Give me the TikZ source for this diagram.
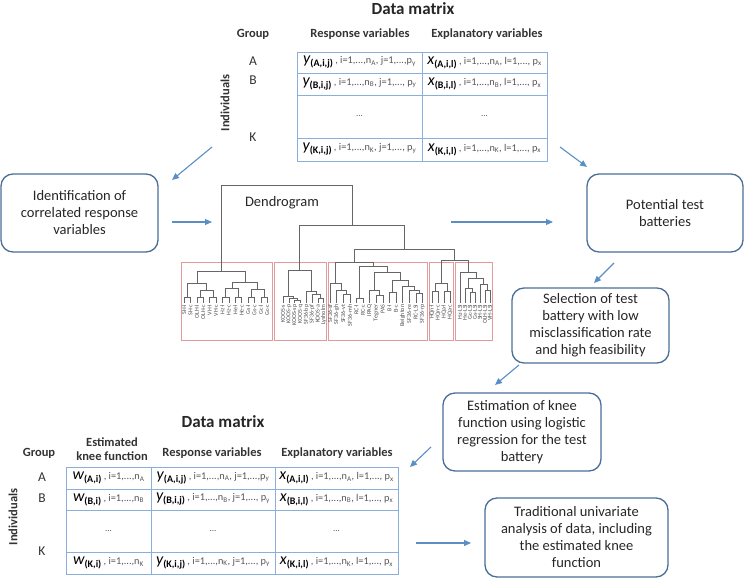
\documentclass[tikz,border=0pt]{standalone}
\usepackage{fontspec}
\setmainfont{Carlito}
\usepackage{tikz}
\usetikzlibrary{arrows.meta}

\definecolor{boxblue}{HTML}{4A6E96}
\definecolor{arrowblue}{HTML}{5B8EC5}
\definecolor{tableblue}{HTML}{8AAFD9}
\definecolor{clusterred}{HTML}{E39A9A}
\definecolor{rngcol}{HTML}{555555}

% matrix entries
\newcommand{\mvar}[2]{{\fontsize{16}{16}\selectfont\itshape #1}\raisebox{-3pt}{\fontsize{10}{10}\selectfont\bfseries (#2)}}
\newcommand{\mrng}[1]{{\fontsize{10.3}{10.3}\selectfont\color{rngcol}\ #1}}
% dendrogram link: (x1,y1) and (x2,y2) joined at height h
\newcommand{\dlink}[5]{\draw[dendro] (#1,#2) |- (#3,#5) -- (#3,#4);}

\tikzset{
  stepbox/.style={draw=boxblue, line width=1.3pt, rounded corners=12pt, align=center,
    font=\fontsize{14.5}{17}\selectfont, text=black!85, inner sep=2pt},
  flow/.style={draw=arrowblue, line width=1.1pt, -{Triangle[length=7pt,width=6pt]}},
  cell/.style={draw=tableblue, line width=0.8pt, inner sep=0pt},
  head/.style={font=\fontsize{12.5}{13.5}\selectfont\bfseries, text=black!80, align=center},
  title/.style={font=\fontsize{17}{17}\selectfont\bfseries, text=black!85},
  grp/.style={font=\fontsize{13.5}{14}\selectfont, text=black!80},
  dots/.style={font=\fontsize{9}{9}\selectfont, text=rngcol},
  dendro/.style={draw=black!60, line width=0.6pt},
  cluster/.style={draw=clusterred, line width=0.6pt},
  leaf/.style={rotate=90, anchor=east, inner sep=0.5pt, text=black!70,
    font=\fontsize{6}{6}\selectfont}
}

\begin{document}
\begin{tikzpicture}[x=1pt,y=-1pt]
\useasboundingbox (0,0) rectangle (745,578);

% upper data matrix
\node[title] (dm1) at (413,9) {Data matrix};
\node[head] (grp1) at (253,34) {Group};
\node[head] (resp1) at (360,34) {Response variables};
\node[head] (expl1) at (487,34) {Explanatory variables};
\node[head, rotate=90] (ind1) at (225,103) {Individuals};
\node[grp] (gA1) at (253,61) {A};
\node[grp] (gB1) at (253,80) {B};
\node[grp] (gK1) at (253,137) {K};

\node[cell, minimum width=125pt, minimum height=21pt] (yA) at (359.5,62.5)
  {\mvar{y}{A,i,j}\mrng{, i=1,...,n\textsubscript{A}, j=1,...,p\textsubscript{y}}};
\node[cell, minimum width=125pt, minimum height=21pt] (xA) at (484.5,62.5)
  {\mvar{x}{A,i,l}\mrng{, i=1,...,n\textsubscript{A}, l=1,..., p\textsubscript{x}}};
\node[cell, minimum width=125pt, minimum height=22pt] (yB) at (359.5,84)
  {\mvar{y}{B,i,j}\mrng{, i=1,...,n\textsubscript{B}, j=1,..., p\textsubscript{y}}};
\node[cell, minimum width=125pt, minimum height=22pt] (xB) at (484.5,84)
  {\mvar{x}{B,i,l}\mrng{, i=1,...,n\textsubscript{B}, l=1,..., p\textsubscript{x}}};
\node[cell, minimum width=125pt, minimum height=43pt, dots] (yD) at (359.5,116.5) {...};
\node[cell, minimum width=125pt, minimum height=43pt, dots] (xD) at (484.5,116.5) {...};
\node[cell, minimum width=125pt, minimum height=23pt] (yK) at (359.5,149.5)
  {\mvar{y}{K,i,j}\mrng{, i=1,...,n\textsubscript{K}, j=1,..., p\textsubscript{y}}};
\node[cell, minimum width=125pt, minimum height=23pt] (xK) at (484.5,149.5)
  {\mvar{x}{K,i,l}\mrng{, i=1,...,n\textsubscript{K}, l=1,..., p\textsubscript{x}}};

% process boxes
\node[stepbox, minimum width=157pt, minimum height=78pt] (ident) at (79.5,213)
  {Identification of\\correlated response\\variables};
\node[stepbox, minimum width=156pt, minimum height=78pt] (potent) at (665,213)
  {Potential test\\batteries};
\node[stepbox, minimum width=157pt, minimum height=75pt] (select) at (590.5,325.5)
  {Selection of test\\battery with low\\misclassification rate\\and high feasibility};
\node[stepbox, minimum width=158pt, minimum height=78pt] (estim) at (522,432)
  {Estimation of knee\\function using logistic\\regression for the test\\battery};
\node[stepbox, minimum width=183pt, minimum height=79pt] (trad) at (576.5,537.5)
  {Traditional univariate\\analysis of data, including\\the estimated knee\\function};

% dendrogram
\node[font=\fontsize{14.5}{14}\selectfont, text=black!85] (dendtitle) at (282,203) {Dendrogram};
\draw[cluster] (181,262) rectangle (272,340);
\draw[cluster] (274,262) rectangle (326,340);
\draw[cluster] (328,262) rectangle (427,340);
\draw[cluster] (429,262) rectangle (453,340);
\draw[cluster] (455,262) rectangle (492,340);

\dlink{184}{303}{190.4}{303}{297}
\dlink{196.8}{303}{203.2}{303}{297}
\dlink{209.6}{303}{216}{303}{297}
\dlink{222.4}{303}{228.8}{303}{297}
\dlink{235.2}{303}{241.6}{303}{297}
\dlink{248}{303}{254.4}{303}{297}
\dlink{260.8}{303}{267.2}{303}{297}
\dlink{200}{297}{212.8}{297}{290}
\dlink{187.2}{297}{206.4}{290}{283}
\dlink{225.6}{297}{238.4}{297}{288}
\dlink{251.2}{297}{264}{297}{289}
\dlink{232}{288}{257.6}{289}{282}
\dlink{196.8}{283}{244.8}{282}{271}

\dlink{294.6}{303}{300.4}{303}{300}
\dlink{288.8}{303}{297.5}{300}{298.5}
\dlink{283}{303}{293.15}{298.5}{296.5}
\dlink{317.8}{303}{323.6}{303}{298}
\dlink{312}{303}{320.7}{298}{294}
\dlink{306.2}{303}{316.35}{294}{291}
\dlink{288.08}{296.5}{311.28}{291}{270}

\dlink{343.2}{303}{349.8}{303}{294}
\dlink{336.6}{303}{346.5}{294}{290}
\dlink{330}{303}{341.55}{290}{283}
\dlink{356.4}{303}{363}{303}{298}
\dlink{376.2}{303}{382.8}{303}{295}
\dlink{369.6}{303}{379.5}{295}{290}
\dlink{389.4}{303}{396}{303}{292}
\dlink{415.8}{303}{422.4}{303}{293}
\dlink{409.2}{303}{419.1}{293}{290}
\dlink{402.6}{303}{414.15}{290}{286}
\dlink{392.7}{292}{408.38}{286}{280}
\dlink{374.55}{290}{400.54}{280}{272}
\dlink{359.7}{298}{387.55}{272}{266}
\dlink{335.78}{283}{373.6}{266}{262}

\dlink{432}{303}{438}{303}{291}
\dlink{444}{303}{450}{303}{291}
\dlink{435}{291}{447}{291}{283}

\dlink{470}{303}{475}{303}{292}
\dlink{465}{303}{472.5}{292}{288}
\dlink{485}{303}{490}{303}{290}
\dlink{480}{303}{487.5}{290}{284}
\dlink{468.75}{288}{483.75}{284}{278}
\dlink{460}{303}{476.25}{278}{272}

\dlink{441}{283}{468.13}{272}{260}
\dlink{354.7}{262}{454.57}{260}{249}
\dlink{299.68}{270}{404.6}{249}{225}
\dlink{220.8}{271}{352.1}{225}{185}

\foreach \t [count=\i from 0] in {SH-l,SH-c,OLH-l,OLH-c,VH-l,VH-c,Hz-l,Hz-c,He-l,He-c,Gs-l,Gs-c,Gc-l,Gc-c}
  \node[leaf] at (184+6.4*\i,304) {\t};
\foreach \t [count=\i from 0] in {KOOS-s,KOOS-p,KOOS-sp,KOOS-q,SF36-bp,SF36-pf,KOOS-a,Lysholm}
  \node[leaf] at (283+5.8*\i,304) {\t};
\foreach \t [count=\i from 0] in {SF36-sf,SF36-gh,SF36-vt,SF36-mh,RC-l,RC-c,IPAQ,Tegner,PAS,B-l,B-c,Beighton,SF36-re,RC-LSI,SF36-rp}
  \node[leaf] at (330+6.6*\i,304) {\t};
\foreach \t [count=\i from 0] in {HQn-l,HQn-c,HQa-l,HQa-c}
  \node[leaf] at (432+6*\i,304) {\t};
\foreach \t [count=\i from 0] in {Hz-LSI,He-LSI,Gc-LSI,Gs-LSI,SH-LSI,OLH-LSI,VH-LSI}
  \node[leaf] at (460+5*\i,304) {\t};

% lower data matrix
\node[title] (dm2) at (223,422) {Data matrix};
\node[head] (grp2) at (39,453) {Group};
\node[head] (knee2) at (112,449) {Estimated\\knee function};
\node[head] (resp2) at (212,453) {Response variables};
\node[head] (expl2) at (337,453) {Explanatory variables};
\node[head, rotate=90] (ind2) at (13,517) {Individuals};
\node[grp] (gA2) at (42,477) {A};
\node[grp] (gB2) at (42,498) {B};
\node[grp] (gK2) at (42,551) {K};

\node[cell, minimum width=85pt, minimum height=22pt] (wA) at (108.5,478)
  {\mvar{w}{A,i}\mrng{, i=1,...,n\textsubscript{A}}};
\node[cell, minimum width=124pt, minimum height=22pt] (yA2) at (213,478)
  {\mvar{y}{A,i,j}\mrng{, i=1,...,n\textsubscript{A}, j=1,...,p\textsubscript{y}}};
\node[cell, minimum width=123pt, minimum height=22pt] (xA2) at (336.5,478)
  {\mvar{x}{A,i,l}\mrng{, i=1,...,n\textsubscript{A}, l=1,..., p\textsubscript{x}}};
\node[cell, minimum width=85pt, minimum height=21pt] (wB) at (108.5,499.5)
  {\mvar{w}{B,i}\mrng{, i=1,...,n\textsubscript{B}}};
\node[cell, minimum width=124pt, minimum height=21pt] (yB2) at (213,499.5)
  {\mvar{y}{B,i,j}\mrng{, i=1,...,n\textsubscript{B}, j=1,..., p\textsubscript{y}}};
\node[cell, minimum width=123pt, minimum height=21pt] (xB2) at (336.5,499.5)
  {\mvar{x}{B,i,l}\mrng{, i=1,...,n\textsubscript{B}, l=1,..., p\textsubscript{x}}};
\node[cell, minimum width=85pt, minimum height=42pt, dots] (wD) at (108.5,531) {...};
\node[cell, minimum width=124pt, minimum height=42pt, dots] (yD2) at (213,531) {...};
\node[cell, minimum width=123pt, minimum height=42pt, dots] (xD2) at (336.5,531) {...};
\node[cell, minimum width=85pt, minimum height=22pt] (wK) at (108.5,563)
  {\mvar{w}{K,i}\mrng{, i=1,...,n\textsubscript{K}}};
\node[cell, minimum width=124pt, minimum height=22pt] (yK2) at (213,563)
  {\mvar{y}{K,i,j}\mrng{, i=1,...,n\textsubscript{K}, j=1,..., p\textsubscript{y}}};
\node[cell, minimum width=123pt, minimum height=22pt] (xK2) at (336.5,563)
  {\mvar{x}{K,i,l}\mrng{, i=1,...,n\textsubscript{K}, l=1,..., p\textsubscript{x}}};

% arrows
\coordinate (a1s) at (212,147);  \coordinate (a1e) at (172,180);
\coordinate (a2s) at (560,147);  \coordinate (a2e) at (587,167);
\coordinate (a3s) at (172,222);  \coordinate (a3e) at (212,222);
\coordinate (a4s) at (451,222);  \coordinate (a4e) at (553,222);
\coordinate (a5s) at (614,263);  \coordinate (a5e) at (594,283);
\coordinate (a6s) at (519,365);  \coordinate (a6e) at (495,385);
\coordinate (a7s) at (431,447);  \coordinate (a7e) at (410,467);
\coordinate (a8s) at (416,543);  \coordinate (a8e) at (471,543);
\foreach \k in {1,...,8}
  \draw[flow] (a\k s) -- (a\k e);

\end{tikzpicture}
\end{document}
